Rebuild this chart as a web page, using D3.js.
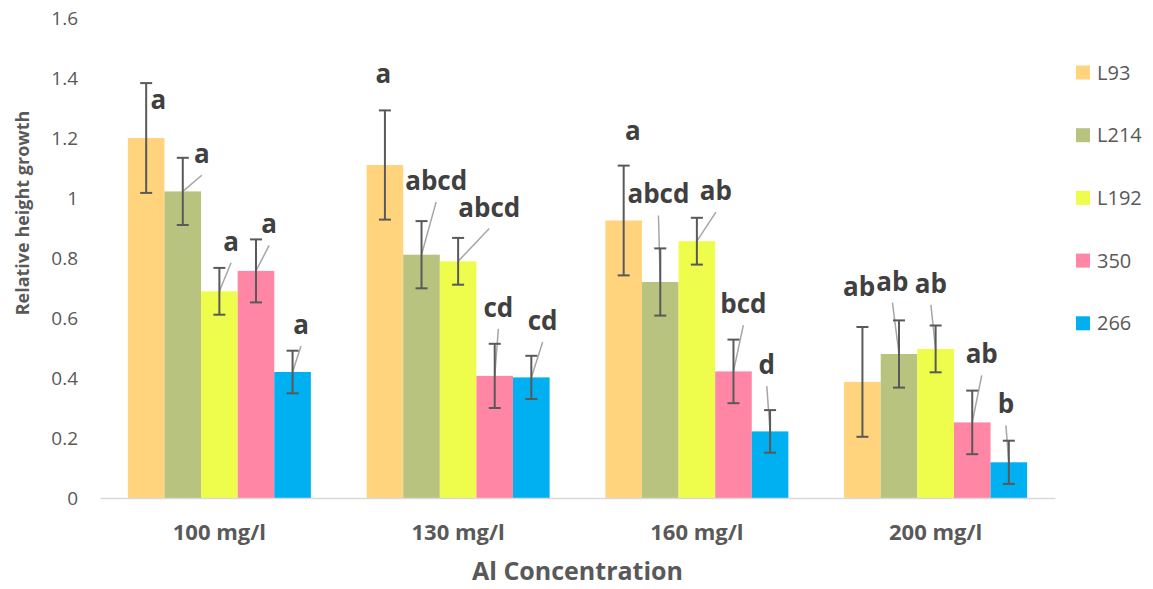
<!DOCTYPE html>
<html>
<head>
<meta charset="utf-8">
<script src="https://cdn.jsdelivr.net/npm/d3@7"></script>
<style>
    body { margin: 0; background: #fff; }
    svg { display: block; font-family: 'Open Sans', sans-serif; }
</style>
</head>
<body>
<div id="chart"></div>
<script>
const categories = ['100 mg/l', '130 mg/l', '160 mg/l', '200 mg/l'];
const seriesNames = ['L93', 'L214', 'L192', '350', '266'];
const yTicks = [0, 0.2, 0.4, 0.6, 0.8, 1, 1.2, 1.4, 1.6];

// mean relative height growth, one array per series (by concentration)
const valuesL93 = [1.20, 1.11, 0.925, 0.387];
const valuesL214 = [1.022, 0.811, 0.72, 0.48];
const valuesL192 = [0.689, 0.789, 0.856, 0.497];
const values350 = [0.757, 0.407, 0.422, 0.252];
const values266 = [0.42, 0.402, 0.222, 0.119];

// error bar half-lengths
const errorsL93 = [0.183, 0.182, 0.183, 0.183];
const errorsL214 = [0.112, 0.112, 0.112, 0.112];
const errorsL192 = [0.078, 0.078, 0.078, 0.078];
const errors350 = [0.105, 0.107, 0.106, 0.106];
const errors266 = [0.071, 0.072, 0.071, 0.072];

// significance letters
const lettersL93 = ['a', 'a', 'a', 'ab'];
const lettersL214 = ['a', 'abcd', 'abcd', 'ab'];
const lettersL192 = ['a', 'abcd', 'ab', 'ab'];
const letters350 = ['a', 'cd', 'bcd', 'ab'];
const letters266 = ['a', 'cd', 'd', 'b'];

const colors = ['#FFD47C', '#B8C37F', '#EEFC4C', '#FF87A5', '#00B0F0'];

// where the letters were dragged to: dx in bar widths, y in value units (baseline)
const labelLayout = [
    [{ dx: 0.33, y: 1.296 }, { dx: 0.52, y: 1.116 }, { dx: 0.32, y: 0.824 }, { dx: 0.36, y: 0.882 }, { dx: 0.23, y: 0.547 }],
    [{ dx: -0.04, y: 1.382 }, { dx: 0.40, y: 1.027 }, { dx: 0.85, y: 0.938 }, { dx: 0.10, y: 0.604 }, { dx: 0.31, y: 0.56 }],
    [{ dx: 0.25, y: 1.193 }, { dx: -0.05, y: 0.982 }, { dx: 0.52, y: 0.993 }, { dx: 0.27, y: 0.616 }, { dx: -0.09, y: 0.413 }],
    [{ dx: -0.09, y: 0.673 }, { dx: -0.18, y: 0.691 }, { dx: -0.13, y: 0.684 }, { dx: 0.26, y: 0.449 }, { dx: -0.08, y: 0.282 }]
];

const width = 1153;
const height = 589;
const margin = { top: 18, bottom: 91, left: 100, right: 98 };

const allValues = [valuesL93, valuesL214, valuesL192, values350, values266];
const allErrors = [errorsL93, errorsL214, errorsL192, errors350, errors266];
const allLetters = [lettersL93, lettersL214, lettersL192, letters350, letters266];

let data = [];
categories.forEach((cat, i) => {
    seriesNames.forEach((name, j) => {
        data.push({
            cat: cat,
            series: name,
            value: allValues[j][i],
            err: allErrors[j][i],
            letter: allLetters[j][i],
            layout: labelLayout[i][j],
            color: colors[j],
            leader: j > 0
        });
    });
});

const svg = d3.select('#chart').append('svg').attr('width', width).attr('height', height);

const yScale = d3.scaleLinear().domain([0, 1.6]).range([height - margin.bottom, margin.top]);
const gap = 0.2335;
const x0 = d3
    .scaleBand()
    .domain(categories)
    .range([margin.left, width - margin.right])
    .paddingInner(gap)
    .paddingOuter(gap / 2);
const x1 = d3.scaleBand().domain(seriesNames).range([0, x0.bandwidth()]);
const bw = x1.bandwidth();
const barCenter = (d) => x0(d.cat) + x1(d.series) + bw / 2;

// Bars
svg.append('g')
    .selectAll('rect')
    .data(data)
    .enter()
    .append('rect')
    .attr('x', (d) => x0(d.cat) + x1(d.series))
    .attr('y', (d) => yScale(d.value))
    .attr('width', bw)
    .attr('height', (d) => yScale(0) - yScale(d.value))
    .attr('fill', (d) => d.color);

// x axis
const xAxis = svg
    .append('g')
    .attr('transform', `translate(0, ${yScale(0)})`)
    .call(d3.axisBottom(x0).tickSize(0).tickPadding(0));
xAxis.select('.domain').attr('stroke', '#d9d9d9').attr('stroke-width', 1.5);
xAxis
    .selectAll('text')
    .attr('y', 42)
    .attr('dy', 0)
    .attr('fill', '#595959')
    .attr('font-size', 22)
    .attr('font-weight', 'bold')
    .attr('font-family', 'Open Sans, sans-serif');

// y axis (labels only)
const yAxis = svg
    .append('g')
    .attr('transform', 'translate(78, 0)')
    .call(
        d3
            .axisLeft(yScale)
            .tickValues(yTicks)
            .tickSize(0)
            .tickPadding(0)
            .tickFormat((d) => String(+d.toFixed(1)))
    );
yAxis.select('.domain').remove();
yAxis
    .selectAll('text')
    .attr('fill', '#595959')
    .attr('font-size', 19)
    .attr('font-family', 'Open Sans, sans-serif');

// Leader lines
svg.append('g')
    .selectAll('line')
    .data(data.filter((d) => d.leader))
    .enter()
    .append('line')
    .attr('x1', (d) => barCenter(d) + d.layout.dx * bw)
    .attr('y1', (d) => yScale(d.layout.y) + 12)
    .attr('x2', (d) => barCenter(d))
    .attr('y2', (d) => yScale(d.value))
    .attr('stroke', '#a6a6a6')
    .attr('stroke-width', 1.5);

// Error bars
const errG = svg.append('g').attr('stroke', '#595959').attr('stroke-width', 2);
const cap = 6;
errG.selectAll('.stem')
    .data(data)
    .enter()
    .append('line')
    .attr('x1', barCenter)
    .attr('x2', barCenter)
    .attr('y1', (d) => yScale(d.value + d.err))
    .attr('y2', (d) => yScale(d.value - d.err));
errG.selectAll('.top')
    .data(data)
    .enter()
    .append('line')
    .attr('x1', (d) => barCenter(d) - cap)
    .attr('x2', (d) => barCenter(d) + cap)
    .attr('y1', (d) => yScale(d.value + d.err))
    .attr('y2', (d) => yScale(d.value + d.err));
errG.selectAll('.bottom')
    .data(data)
    .enter()
    .append('line')
    .attr('x1', (d) => barCenter(d) - cap)
    .attr('x2', (d) => barCenter(d) + cap)
    .attr('y1', (d) => yScale(d.value - d.err))
    .attr('y2', (d) => yScale(d.value - d.err));

// Letters
svg.append('g')
    .selectAll('text')
    .data(data)
    .enter()
    .append('text')
    .attr('x', (d) => barCenter(d) + d.layout.dx * bw)
    .attr('y', (d) => yScale(d.layout.y))
    .attr('text-anchor', 'middle')
    .attr('font-size', 26)
    .attr('font-weight', 'bold')
    .attr('fill', '#404040')
    .text((d) => d.letter);

// Axis titles
svg.append('text')
    .attr('x', (margin.left + width - margin.right) / 2)
    .attr('y', 580)
    .attr('text-anchor', 'middle')
    .attr('font-size', 25)
    .attr('font-weight', 'bold')
    .attr('fill', '#595959')
    .text('Al Concentration');

svg.append('text')
    .attr('transform', `translate(29, ${(margin.top + height - margin.bottom) / 2 - 45}) rotate(-90)`)
    .attr('text-anchor', 'middle')
    .attr('font-size', 18)
    .attr('font-weight', 'bold')
    .attr('fill', '#595959')
    .text('Relative height growth');

// Legend
const legend = svg
    .append('g')
    .selectAll('g')
    .data(seriesNames)
    .enter()
    .append('g')
    .attr('transform', (d, i) => `translate(1076, ${72.5 + i * 62.7})`);
legend
    .append('rect')
    .attr('x', 0)
    .attr('y', -7)
    .attr('width', 14)
    .attr('height', 14)
    .attr('fill', (d, i) => colors[i]);
legend
    .append('text')
    .attr('x', 21)
    .attr('dy', '0.35em')
    .attr('font-size', 20)
    .attr('fill', '#595959')
    .text((d) => d);
</script>
</body>
</html>
